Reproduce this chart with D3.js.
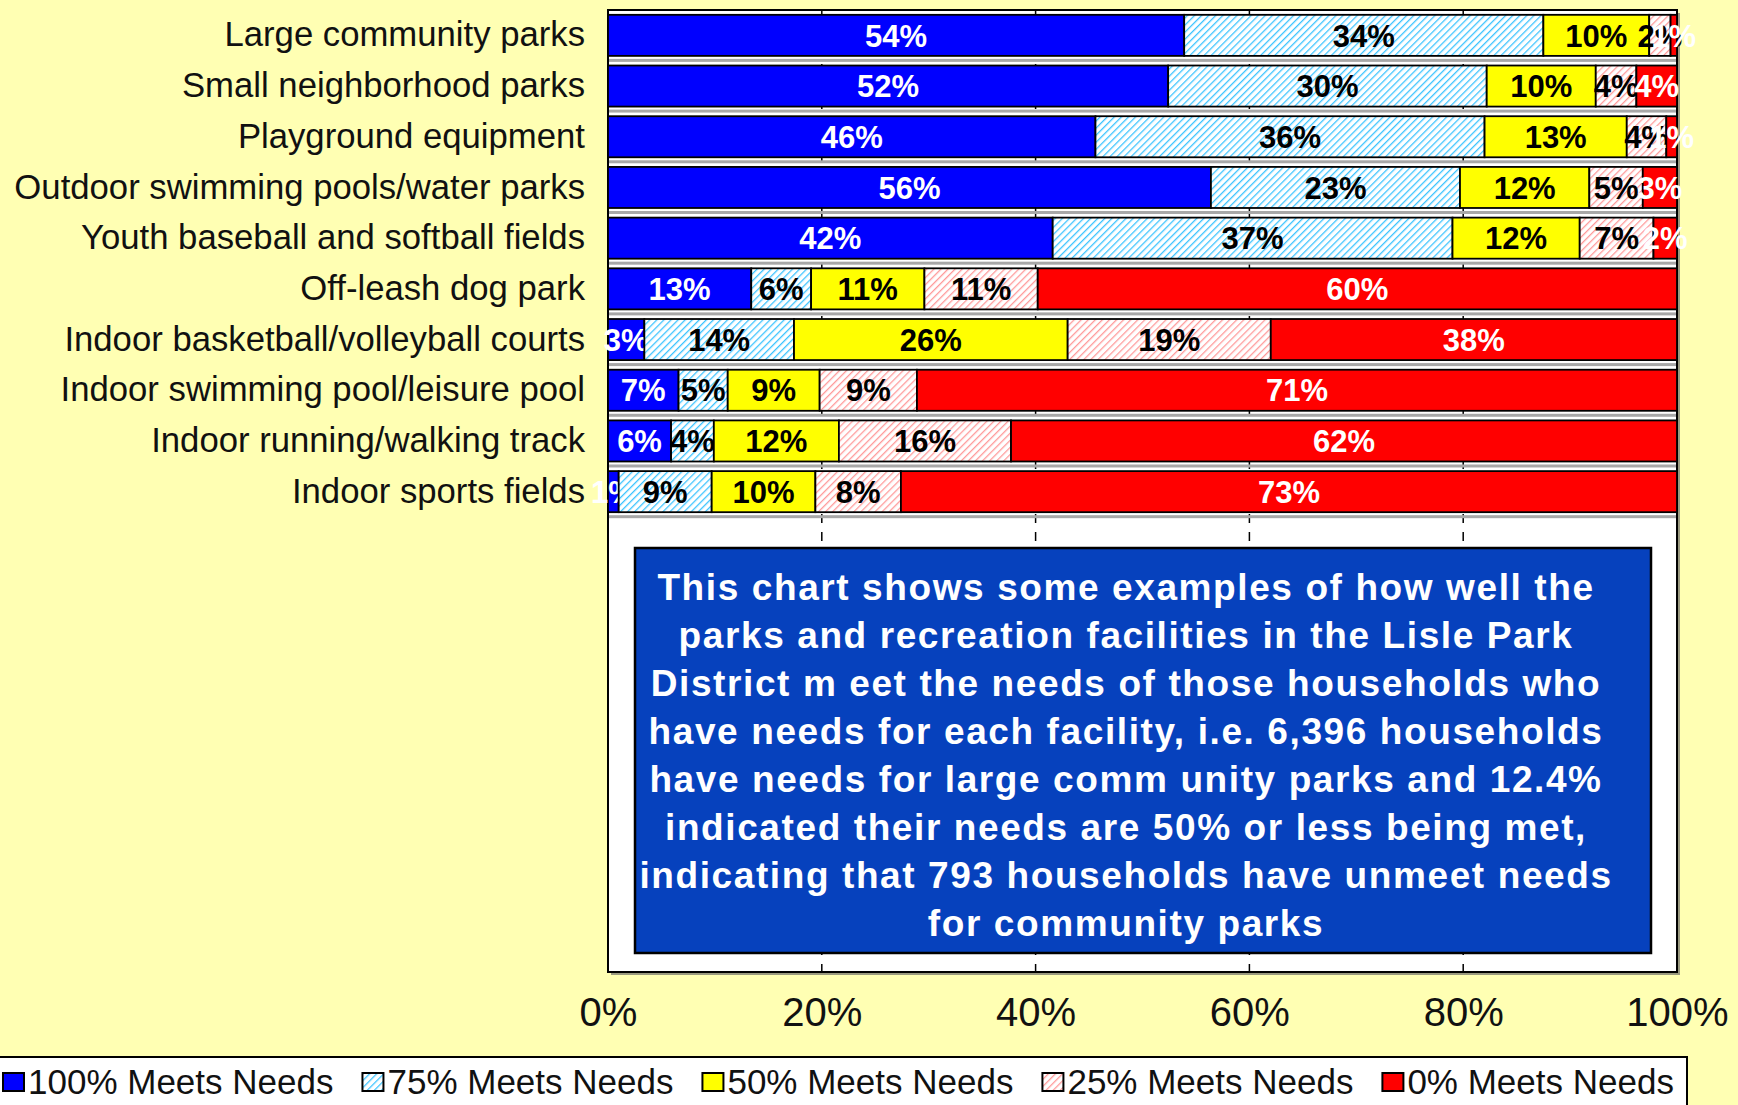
<!DOCTYPE html>
<html lang="en">
<head>
    <meta charset="UTF-8">
    <title>meets needs</title>
    <script src="https://d3js.org/d3.v7.min.js"></script>
    <style>
        body{
            margin: 0;
            background: #ffffb3;
        }
        text{
            font-family: "Liberation Sans", Arial, sans-serif;
        }
    </style>
</head>
<body>

<svg width="1738" height="1105" id="chart"></svg>

<script>
    // data (percent of households)
    let categories = ["Large community parks", "Small neighborhood parks", "Playground equipment",
        "Outdoor swimming pools/water parks", "Youth baseball and softball fields", "Off-leash dog park",
        "Indoor basketball/volleyball courts", "Indoor swimming pool/leisure pool",
        "Indoor running/walking track", "Indoor sports fields"]
    let meets100 = [53.9, 52.4, 45.6, 56.4, 41.6, 13.4, 3.4, 6.6, 5.9, 1.0]
    let meets75 = [33.6, 29.8, 36.4, 23.3, 37.4, 5.6, 14.0, 4.6, 4.0, 8.7]
    let meets50 = [9.9, 10.2, 13.3, 12.1, 11.9, 10.6, 25.6, 8.6, 11.7, 9.7]
    let meets25 = [2.0, 3.8, 3.7, 5.0, 6.9, 10.6, 19.0, 9.1, 16.1, 8.0]
    let meets0 = [0.6, 3.8, 1.0, 3.2, 2.2, 59.8, 38.0, 71.1, 62.3, 72.6]
    let seriesNames = ["100% Meets Needs", "75% Meets Needs", "50% Meets Needs", "25% Meets Needs", "0% Meets Needs"]
    let xTicks = [0, 20, 40, 60, 80, 100]
    let noteLines = [
        "This chart shows some examples of how well the",
        "parks and recreation facilities in the Lisle Park",
        "District m eet the needs of those households who",
        "have needs for each facility, i.e. 6,396 households",
        "have needs for large comm unity parks and 12.4%",
        "indicated their needs are 50% or less being met,",
        "indicating that 793 households have unmeet needs",
        "for community parks"
    ]

    let fills = ["#0000ff", "url(#hatchBlue)", "#ffff00", "url(#hatchRed)", "#ff0000"]
    let labelColors = ["#ffffff", "#000000", "#000000", "#000000", "#ffffff"]

    let svg = d3.select("#chart")
    let defs = svg.append("defs")

    // diagonal hatch patterns
    function hatch(id, color) {
        let p = defs.append("pattern")
            .attr("id", id)
            .attr("patternUnits", "userSpaceOnUse")
            .attr("width", 5)
            .attr("height", 5)
            .attr("patternTransform", "rotate(45)")
        p.append("rect").attr("width", 5).attr("height", 5).attr("fill", "#ffffff")
        p.append("line")
            .attr("x1", 0).attr("y1", 0).attr("x2", 0).attr("y2", 5)
            .attr("stroke", color)
            .attr("stroke-width", 2.6)
    }
    hatch("hatchBlue", "#3cc4ff")
    hatch("hatchRed", "#ff9a9a")

    let plot = {left: 608, right: 1677, top: 10, bottom: 972}

    let x = d3.scaleLinear().domain([0, 100]).range([plot.left, plot.right])
    let y = d3.scaleBand().domain(categories).range([10, 517])
        .paddingInner(0.19).paddingOuter(0.095)

    // plot area
    svg.append("rect")
        .attr("x", plot.left + 3).attr("y", plot.top + 3)
        .attr("width", plot.right - plot.left).attr("height", plot.bottom - plot.top)
        .attr("fill", "#9a9a80")
    svg.append("rect")
        .attr("x", plot.left).attr("y", plot.top)
        .attr("width", plot.right - plot.left).attr("height", plot.bottom - plot.top)
        .attr("fill", "#ffffff")
        .attr("stroke", "#000000")
        .attr("stroke-width", 2)

    // dashed gridlines
    svg.append("g").selectAll("line")
        .data(xTicks.slice(1, -1))
        .join("line")
        .attr("x1", d => x(d)).attr("x2", d => x(d))
        .attr("y1", plot.top).attr("y2", plot.bottom)
        .attr("stroke", "#000000")
        .attr("stroke-width", 1.5)
        .attr("stroke-dasharray", "9,9")

    // gray strip under each row
    svg.append("g").selectAll("rect")
        .data(categories)
        .join("rect")
        .attr("x", plot.left + 1)
        .attr("y", d => y(d) + y.bandwidth() + 3)
        .attr("width", plot.right - plot.left - 2)
        .attr("height", 3)
        .attr("fill", "#a8a8a8")

    // stacked bars
    let rows = categories.map(function (c, i) {
        return {name: c, s0: meets100[i], s1: meets75[i], s2: meets50[i], s3: meets25[i], s4: meets0[i]}
    })
    let stack = d3.stack().keys(["s0", "s1", "s2", "s3", "s4"])(rows)

    let groups = svg.append("g").selectAll("g")
        .data(stack)
        .join("g")

    groups.selectAll("rect")
        .data(d => d)
        .join("rect")
        .attr("x", d => x(d[0]))
        .attr("y", d => y(d.data.name))
        .attr("width", d => x(d[1]) - x(d[0]))
        .attr("height", y.bandwidth())
        .attr("fill", function () { return fills[d3.select(this.parentNode).datum().index] })
        .attr("stroke", "#000000")
        .attr("stroke-width", 1.8)

    groups.selectAll("text")
        .data(d => d)
        .join("text")
        .attr("x", d => x((d[0] + d[1]) / 2))
        .attr("y", d => y(d.data.name) + y.bandwidth() / 2)
        .attr("dy", "0.36em")
        .attr("text-anchor", "middle")
        .attr("font-size", 31)
        .attr("font-weight", "bold")
        .attr("fill", function () { return labelColors[d3.select(this.parentNode).datum().index] })
        .text(d => Math.round(d[1] - d[0]) + "%")

    // category labels
    let yAxis = svg.append("g")
        .attr("transform", "translate(" + plot.left + ",0)")
        .call(d3.axisLeft(y).tickSize(0).tickPadding(23))
    yAxis.select(".domain").remove()
    yAxis.selectAll("text")
        .attr("font-size", 34.7)
        .attr("font-family", "Liberation Sans, Arial, sans-serif")
        .attr("fill", "#111111")

    // x axis labels
    let xAxis = svg.append("g")
        .attr("transform", "translate(0," + plot.bottom + ")")
        .call(d3.axisBottom(x).tickValues(xTicks).tickSize(0).tickPadding(26).tickFormat(d => d + "%"))
    xAxis.select(".domain").remove()
    xAxis.selectAll("text")
        .attr("font-size", 40)
        .attr("font-family", "Liberation Sans, Arial, sans-serif")
        .attr("fill", "#111111")

    // note box
    svg.append("rect")
        .attr("x", 635).attr("y", 548)
        .attr("width", 1016).attr("height", 405)
        .attr("fill", "#0641bd")
        .attr("stroke", "#000000")
        .attr("stroke-width", 2.5)
    svg.append("g").selectAll("text")
        .data(noteLines)
        .join("text")
        .attr("x", 1126)
        .attr("y", (d, i) => 600 + i * 48)
        .attr("text-anchor", "middle")
        .attr("font-size", 37)
        .attr("font-weight", "bold")
        .attr("letter-spacing", 1.6)
        .attr("fill", "#ffffff")
        .text(d => d)

    // legend
    svg.append("rect")
        .attr("x", -10).attr("y", 1057)
        .attr("width", 1697).attr("height", 80)
        .attr("fill", "#ffffff")
        .attr("stroke", "#000000")
        .attr("stroke-width", 2)

    let lx = 3
    seriesNames.forEach(function (name, i) {
        svg.append("rect")
            .attr("x", lx).attr("y", 1073)
            .attr("width", 21).attr("height", 18)
            .attr("fill", fills[i])
            .attr("stroke", "#000000")
            .attr("stroke-width", 2)
        let t = svg.append("text")
            .attr("x", lx + 25).attr("y", 1094)
            .attr("font-size", 35)
            .attr("fill", "#111111")
            .text(name)
        lx = lx + 25 + t.node().getComputedTextLength() + 29
    })
</script>

</body>
</html>
